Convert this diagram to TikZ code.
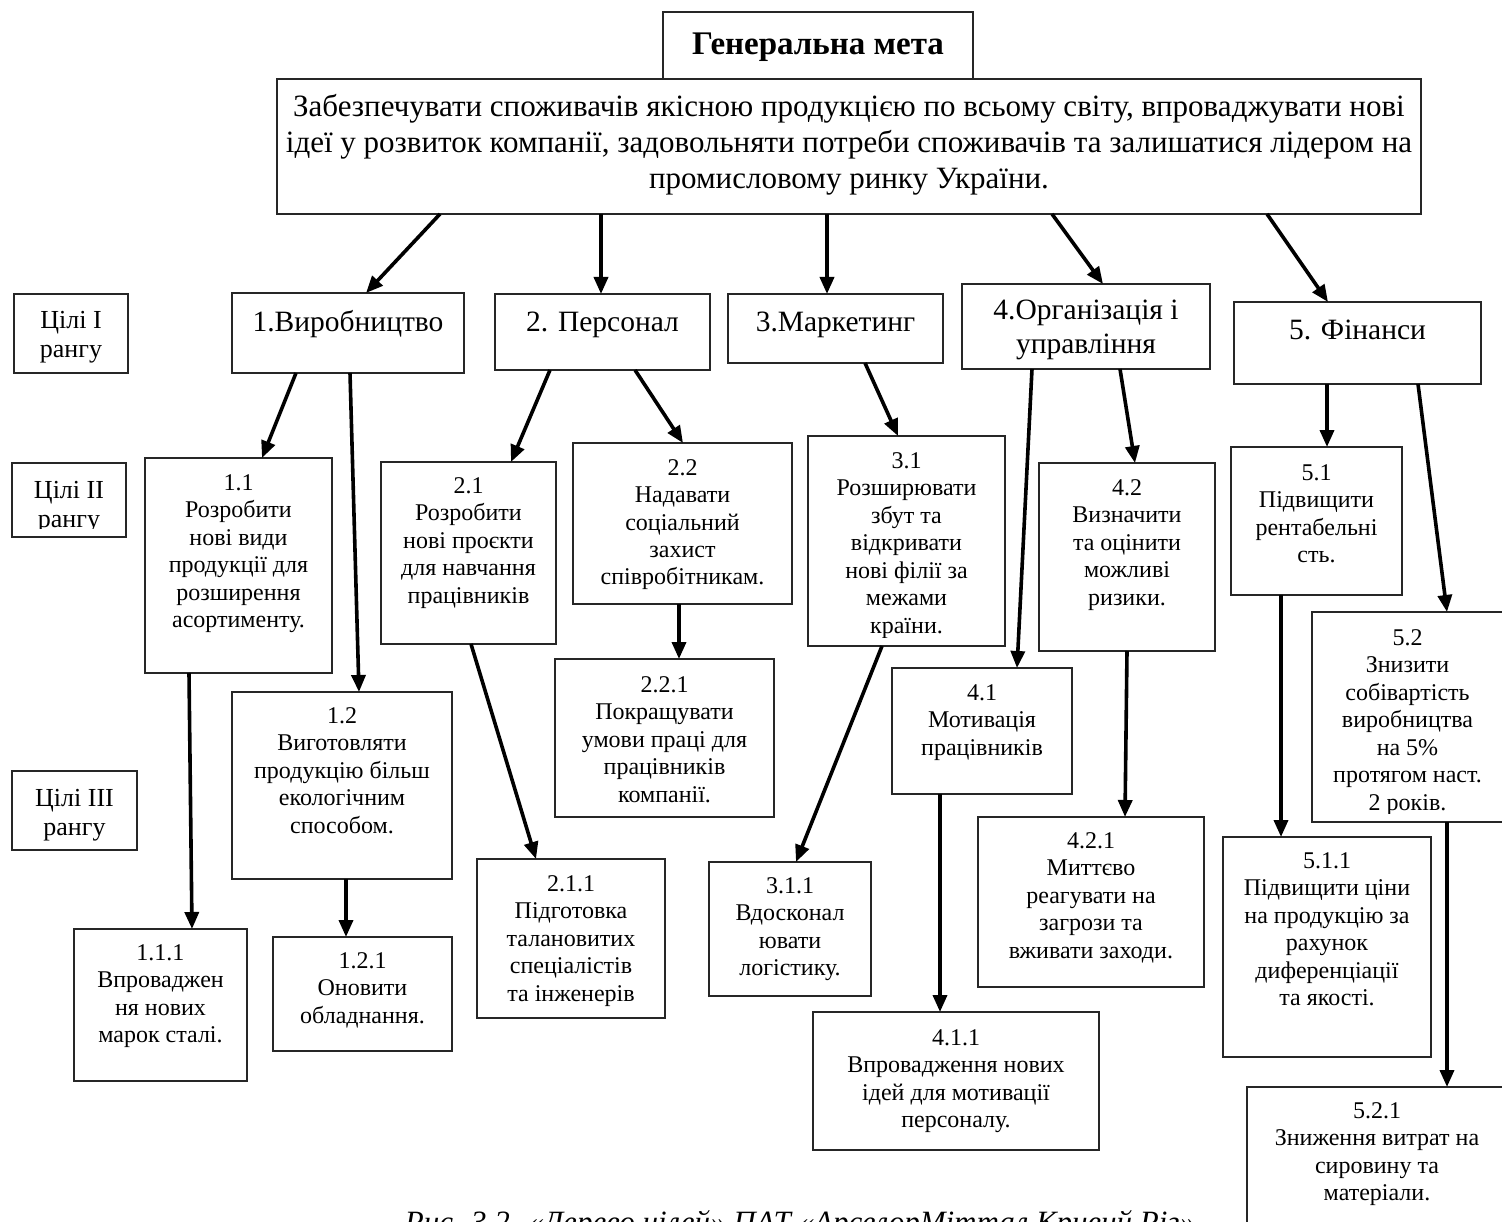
\documentclass[tikz,border=0pt]{standalone}
\usepackage{fontspec}
\setmainfont{Liberation Serif}
\usetikzlibrary{arrows.meta}
\tikzset{
  box/.style={draw=black!85, line width=1.3pt, inner sep=0pt, outer sep=0pt, anchor=north west},
  arr/.style={line width=3.6pt, -{Triangle[length=17pt,width=14pt]}},
  txt/.style={anchor=north west, inner sep=0pt, outer sep=0pt},
}
\newcommand\fnbox{\fontsize{24}{27.5}\selectfont}
\newcommand\fnlev{\fontsize{29.5}{34}\selectfont}
\newcommand\fnrank{\fontsize{26}{29}\selectfont}
\newcommand\fnmain{\fontsize{31}{36}\selectfont}
\newcommand\fntitle{\fontsize{33}{38}\selectfont\bfseries}
\newcommand\fncap{\fontsize{31}{36}\selectfont\itshape}
% #1 font, #2 name, #3 x, #4 y, #5 w, #6 h, #7 first baseline, #8 text
\newcommand\gbox[8]{%
  \node[box, minimum width=#5pt, minimum height=#6pt] (#2) at (#3,#4) {};
  \begin{scope}
    \clip (#3,#4) rectangle ++(#5,#6-9);
    \node[txt] (#2t) at (#3,#4) {\begin{minipage}[t][#6pt][t]{#5pt}\centering#1\rule{0pt}{#7pt}#8\end{minipage}};
  \end{scope}}
\begin{document}
\begin{tikzpicture}[x=1pt,y=-1pt]
\useasboundingbox (0,0) rectangle (1502,1222);
\fill[white] (0,0) rectangle (1502,1222);
\clip (0,0) rectangle (1502,1222);

\gbox{\fntitle}{title}{663}{12}{310}{67}{43}{Генеральна мета}
\gbox{\fnmain}{main}{277}{79}{1144}{135}{38}{Забезпечувати споживачів якісною продукцією по всьому світу, впроваджувати нові\\ідеї у розвиток компанії, задовольняти потреби споживачів та залишатися лідером на\\промисловому ринку України.}

\gbox{\fnrank}{r1}{14}{294}{114}{79}{35}{Цілі I\\рангу}
\gbox{\fnrank}{r2}{12}{463}{114}{74}{35}{Цілі II\\рангу}
\gbox{\fnrank}{r3}{12}{771}{125}{79}{35}{Цілі III\\рангу}

\gbox{\fnlev}{l1}{232}{293}{232}{80}{39}{1.Виробництво}
\gbox{\fnlev}{l2}{495}{294}{215}{76}{38}{2. Персонал}
\gbox{\fnlev}{l3}{728}{294}{215}{69}{38}{3.Маркетинг}
\gbox{\fnlev}{l4}{962}{284}{248}{85}{36}{4.Організація і\\управління}
\gbox{\fnlev}{l5}{1234}{302}{247}{82}{38}{5. Фінанси}

\gbox{\fnbox}{b11}{145}{458}{187}{215}{32}{1.1\\Розробити\\нові види\\продукції для\\розширення\\асортименту.}
\gbox{\fnbox}{b12}{232}{692}{220}{187}{31}{1.2\\Виготовляти\\продукцію більш\\екологічним\\способом.}
\gbox{\fnbox}{b21}{381}{462}{175}{182}{31}{2.1\\Розробити\\нові проєкти\\для навчання\\працівників}
\gbox{\fnbox}{b22}{573}{443}{219}{161}{32}{2.2\\Надавати\\соціальний\\захист\\співробітникам.}
\gbox{\fnbox}{b31}{808}{436}{197}{210}{32}{3.1\\Розширювати\\збут та\\відкривати\\нові філії за\\межами\\країни.}
\gbox{\fnbox}{b41}{892}{668}{180}{126}{32}{4.1\\Мотивація\\працівників}
\gbox{\fnbox}{b42}{1039}{463}{176}{188}{32}{4.2\\Визначити\\та оцінити\\можливі\\ризики.}
\gbox{\fnbox}{b51}{1231}{447}{171}{148}{33}{5.1\\Підвищити\\рентабельні\\сть.}
\gbox{\fnbox}{b52}{1312}{612}{191}{210}{33}{5.2\\Знизити\\собівартість\\виробництва\\на 5\%\\протягом наст.\\2 років.}

\gbox{\fnbox}{b111}{74}{929}{173}{152}{31}{1.1.1\\Впроваджен\\ня нових\\марок сталі.}
\gbox{\fnbox}{b121}{273}{937}{179}{114}{31}{1.2.1\\Оновити\\обладнання.}
\gbox{\fnbox}{b211}{477}{859}{188}{159}{32}{2.1.1\\Підготовка\\талановитих\\спеціалістів\\та інженерів}
\gbox{\fnbox}{b221}{555}{659}{219}{158}{33}{2.2.1\\Покращувати\\умови праці для\\працівників\\компанії.}
\gbox{\fnbox}{b311}{709}{862}{162}{134}{31}{3.1.1\\Вдосконал\\ювати\\логістику.}
\gbox{\fnbox}{b411}{813}{1012}{286}{138}{33}{4.1.1\\Впровадження нових\\ідей для мотивації\\персоналу.}
\gbox{\fnbox}{b421}{978}{817}{226}{170}{31}{4.2.1\\Миттєво\\реагувати на\\загрози та\\вживати заходи.}
\gbox{\fnbox}{b511}{1223}{837}{208}{220}{31}{5.1.1\\Підвищити ціни\\на продукцію за\\рахунок\\диференціації\\та якості.}
\gbox{\fnbox}{b521}{1247}{1087}{260}{200}{31}{5.2.1\\Зниження витрат на\\сировину та\\матеріали.}

% arrows from general goal
\draw[arr] (main.south -| 440,0) -- (l1.north -| 366,0);
\draw[arr] (main.south -| 601,0) -- (l2.north -| 601,0);
\draw[arr] (main.south -| 827,0) -- (l3.north -| 827,0);
\draw[arr] (main.south -| 1052,0) -- (l4.north -| 1103,0);
\draw[arr] (main.south -| 1267,0) -- (l5.north -| 1328,0);
% level I -> II
\draw[arr] (l1.south -| 296,0) -- (b11.north -| 262,0);
\draw[arr] (l1.south -| 350,0) -- (b12.north -| 359,0);
\draw[arr] (l2.south -| 550,0) -- (b21.north -| 511,0);
\draw[arr] (l2.south -| 635,0) -- (b22.north -| 683,0);
\draw[arr] (l3.south -| 865,0) -- (b31.north -| 898,0);
\draw[arr] (l4.south -| 1032,0) -- (b41.north -| 1017,0);
\draw[arr] (l4.south -| 1120,0) -- (b42.north -| 1135,0);
\draw[arr] (l5.south -| 1327,0) -- (b51.north -| 1327,0);
\draw[arr] (l5.south -| 1418,0) -- (b52.north -| 1447,0);
% level II -> III
\draw[arr] (b11.south -| 189,0) -- (b111.north -| 192,0);
\draw[arr] (b12.south -| 346,0) -- (b121.north -| 346,0);
\draw[arr] (b21.south -| 471,0) -- (b211.north -| 536,0);
\draw[arr] (b22.south -| 679,0) -- (b221.north -| 679,0);
\draw[arr] (b31.south -| 882,0) -- (b311.north -| 796,0);
\draw[arr] (b41.south -| 940,0) -- (b411.north -| 940,0);
\draw[arr] (b42.south -| 1127,0) -- (b421.north -| 1125,0);
\draw[arr] (b51.south -| 1281,0) -- (b511.north -| 1281,0);
\draw[arr] (b52.south -| 1447,0) -- (b521.north -| 1447,0);

\node[font=\fncap, anchor=base, inner sep=0pt] (cap) at (800,1232) {Рис. 3.2. «Дерево цілей» ПАТ «АрселорМіттал Кривий Ріг»};
\end{tikzpicture}
\end{document}
